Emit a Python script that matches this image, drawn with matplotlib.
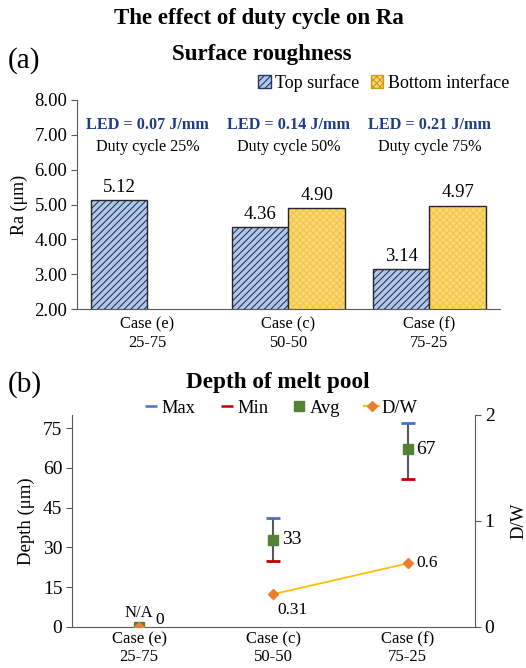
import numpy as np
import matplotlib.pyplot as plt
from matplotlib.patches import Patch
from matplotlib.lines import Line2D

plt.rcParams['font.family'] = ['Liberation Serif', 'DejaVu Serif']
plt.rcParams['hatch.linewidth'] = 0.8

# data
cases = ['Case (e)\n25-75', 'Case (c)\n50-50', 'Case (f)\n75-25']
led = ['LED = 0.07 J/mm', 'LED = 0.14 J/mm', 'LED = 0.21 J/mm']
duty = ['Duty cycle 25%', 'Duty cycle 50%', 'Duty cycle 75%']
ra_top = [5.12, 4.36, 3.14]
ra_bottom = [np.nan, 4.90, 4.97]

depth_max = [np.nan, 41, 77]
depth_min = [np.nan, 25, 56]
depth_avg = [0, 33, 67]
dw = [0, 0.31, 0.6]

blue_face = '#B4C7E7'
blue_hatch = '#1F3864'
yel_face = '#FFD966'
yel_hatch = '#EAC258'
edge = '#262626'
axcol = '#595959'

fig = plt.figure(figsize=(5.26, 6.68), dpi=100)
fig.text(0.493, 0.973, 'The effect of duty cycle on Ra', ha='center', va='center',
         fontsize=16.5, fontweight='bold')

# ---------- (a) surface roughness ----------
ax = fig.add_axes([0.1464, 0.5374, 0.804, 0.3129])
x = np.arange(len(cases))
w = 0.4
ax.bar(x - w/2, ra_top, w, color=blue_face, edgecolor=blue_hatch,
       hatch='/////', linewidth=0)
ax.bar(x - w/2, ra_top, w, fill=False, edgecolor=edge, linewidth=1.0)
ax.bar(x + w/2, ra_bottom, w, color=yel_face, edgecolor=yel_hatch,
       hatch='xxxxx', linewidth=0)
ax.bar(x + w/2, ra_bottom, w, fill=False, edgecolor=edge, linewidth=1.0)

for i in range(len(cases)):
    ax.annotate('%.2f' % ra_top[i], (x[i] - w/2, ra_top[i]), xytext=(0, 3),
                textcoords='offset points', ha='center', va='bottom', fontsize=13.5)
    if not np.isnan(ra_bottom[i]):
        ax.annotate('%.2f' % ra_bottom[i], (x[i] + w/2, ra_bottom[i]), xytext=(0, 3),
                    textcoords='offset points', ha='center', va='bottom', fontsize=13.5)
    ax.text(x[i], 7.28, led[i], ha='center', va='center', fontsize=11.7,
            fontweight='bold', color='#1F3C88')
    ax.text(x[i], 6.66, duty[i], ha='center', va='center', fontsize=11.6)

ax.set_xlim(-0.5, 2.5)
ax.set_ylim(2, 8)
ax.set_yticks(np.arange(2, 8.01, 1))
ax.set_yticklabels(['%.2f' % v for v in np.arange(2, 8.01, 1)], fontsize=13.5)
ax.set_xticks(x)
ax.set_xticklabels(cases, fontsize=11.8, linespacing=1.25)
ax.tick_params(axis='x', length=0, pad=5)
ax.tick_params(axis='y', length=4, color=axcol, pad=3)
for s in ['top', 'right']:
    ax.spines[s].set_visible(False)
ax.spines['left'].set_color(axcol)
ax.spines['bottom'].set_color(axcol)
ax.set_ylabel('Ra (μm)', fontsize=13)
ax.yaxis.set_label_coords(-0.115, 0.5)

handles = [Patch(facecolor=blue_face, edgecolor=blue_hatch, hatch='/////'),
           Patch(facecolor=yel_face, edgecolor='#C89A20', hatch='xxxxx')]
fig.legend(handles, ['Top surface', 'Bottom interface'], loc='center right',
           bbox_to_anchor=(0.985, 0.876), ncol=2, frameon=False, fontsize=13,
           handlelength=0.7, handleheight=0.7, handletextpad=0.25, columnspacing=0.6,
           borderpad=0)

fig.text(0.015, 0.91, '(a)', fontsize=21, ha='left', va='center')
fig.text(0.498, 0.918, 'Surface roughness', fontsize=16.5, fontweight='bold',
         ha='center', va='center')

# ---------- (b) depth of melt pool ----------
bx = fig.add_axes([0.1369, 0.0614, 0.766, 0.3174])
bx.vlines(x, depth_min, depth_max, color=axcol, linewidth=1.5, zorder=2)
bx.plot(x, depth_max, linestyle='none', marker='_', markersize=10,
        markeredgewidth=2, color='#4472C4', zorder=3)
bx.plot(x, depth_min, linestyle='none', marker='_', markersize=10,
        markeredgewidth=2, color='#C00000', zorder=3)
bx.plot(x, depth_avg, linestyle='none', marker='s', markersize=7,
        color='#548235', zorder=4)
bx.set_xlim(-0.5, 2.5)
bx.set_ylim(0, 80)
bx.set_yticks(np.arange(0, 76, 15))
bx.tick_params(axis='y', labelsize=14, length=4, color=axcol, pad=3)
bx.set_xticks(x)
bx.set_xticklabels(cases, fontsize=12, linespacing=1.15)
bx.tick_params(axis='x', length=0, pad=3)
bx.spines['top'].set_visible(False)
bx.spines['right'].set_visible(False)
bx.spines['left'].set_color(axcol)
bx.spines['bottom'].set_color(axcol)
bx.set_ylabel('Depth (μm)', fontsize=13.5)
bx.yaxis.set_label_coords(-0.092, 0.5)

for i in range(1, len(cases)):
    bx.annotate('%d' % depth_avg[i], (x[i], depth_avg[i]), xytext=(6, 0),
                textcoords='offset points', ha='left', va='center', fontsize=14)
bx.annotate('N/A', (x[0], depth_avg[0]), xytext=(0, 4),
            textcoords='offset points', ha='center', va='bottom', fontsize=12)
bx.annotate('0', (x[0], depth_avg[0]), xytext=(12, -1),
            textcoords='offset points', ha='left', va='bottom', fontsize=12.5)

rx = bx.twinx()
rx.plot(x[1:], dw[1:], color='#FFC000', linewidth=1.3, zorder=3)
rx.plot(x, dw, linestyle='none', marker='D', markersize=5.5, color='#ED7D31', zorder=4)
rx.set_ylim(0, 2)
rx.set_yticks([0, 1, 2])
rx.tick_params(axis='y', labelsize=14, length=4, color=axcol, pad=3)
for s in ['top', 'left', 'bottom']:
    rx.spines[s].set_visible(False)
rx.spines['right'].set_color(axcol)
rx.set_ylabel('D/W', fontsize=13.5)
rx.yaxis.set_label_coords(1.087, 0.5)
rx.annotate('%.2f' % dw[1], (x[1], dw[1]), xytext=(3, -6),
            textcoords='offset points', ha='left', va='top', fontsize=12.5)
rx.annotate('%.1f' % dw[2], (x[2], dw[2]), xytext=(6, 0),
            textcoords='offset points', ha='left', va='center', fontsize=12.5)

leg_h = [Line2D([], [], color='#4472C4', marker='_', linestyle='none', markersize=9,
                markeredgewidth=1.8),
         Line2D([], [], color='#C00000', marker='_', linestyle='none', markersize=9,
                markeredgewidth=1.8),
         Line2D([], [], color='#548235', marker='s', linestyle='none', markersize=7),
         Line2D([], [], color='#FFC000', marker='D', markerfacecolor='#ED7D31',
                markeredgecolor='#ED7D31', markersize=5)]
fig.legend(leg_h, ['Max', 'Min', 'Avg', 'D/W'], loc='center',
           bbox_to_anchor=(0.534, 0.389), ncol=4, frameon=False, fontsize=13.3,
           handlelength=0.8, handletextpad=0.15, columnspacing=1.3, borderpad=0)

fig.text(0.015, 0.425, '(b)', fontsize=21, ha='left', va='center')
fig.text(0.528, 0.427, 'Depth of melt pool', fontsize=16.7, fontweight='bold',
         ha='center', va='center')

fig.savefig('out.png', dpi=100)
